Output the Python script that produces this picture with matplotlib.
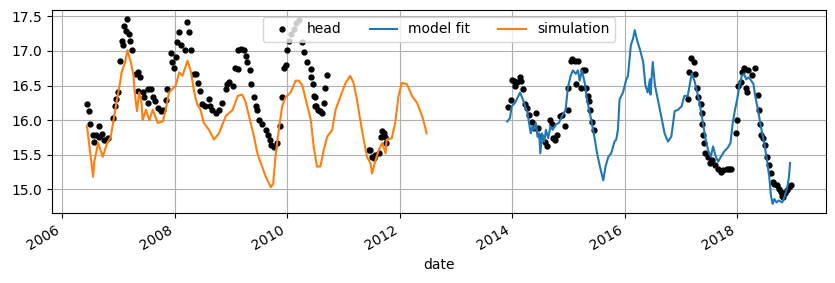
import datetime as dt
import matplotlib
matplotlib.use("Agg")
import matplotlib.pyplot as plt

# observed head (decimal year, value)
head_t = [2006.44, 2006.47, 2006.50, 2006.54, 2006.57, 2006.60, 2006.66, 2006.66, 2006.70, 2006.74,
          2006.78, 2006.82, 2006.90, 2006.93, 2006.96, 2006.99, 2007.02, 2007.06, 2007.09, 2007.10,
          2007.13, 2007.16, 2007.19, 2007.21, 2007.24, 2007.31, 2007.34, 2007.39, 2007.34, 2007.43,
          2007.46, 2007.52, 2007.58, 2007.52, 2007.61, 2007.65, 2007.70, 2007.76, 2007.79, 2007.84,
          2007.87, 2007.93, 2007.96, 2007.99, 2008.02, 2008.05, 2008.08, 2008.11, 2008.18, 2008.22,
          2008.26, 2008.29, 2008.35, 2008.38, 2008.42, 2008.45, 2008.49, 2008.54, 2008.61, 2008.62,
          2008.67, 2008.73, 2008.79, 2008.85, 2008.91, 2008.94, 2008.97, 2009.03, 2009.07, 2009.12,
          2009.13, 2009.17, 2009.23, 2009.26, 2009.29, 2009.33, 2009.35, 2009.41, 2009.44, 2009.47,
          2009.50, 2009.56, 2009.62, 2009.65, 2009.69, 2009.72, 2009.76, 2009.81, 2009.88, 2009.91,
          2009.94, 2009.97, 2010.00, 2010.04, 2010.07, 2010.12, 2010.15, 2010.21, 2010.27, 2010.30,
          2010.36, 2010.42, 2010.42, 2010.45, 2010.47, 2010.49, 2010.50, 2010.52, 2010.54, 2010.58,
          2010.61, 2010.65, 2010.68, 2010.70,
          2011.45, 2011.48, 2011.51, 2011.54, 2011.57, 2011.63, 2011.66, 2011.69, 2011.72, 2011.74,
          2011.76,
          2013.93, 2013.97, 2013.99, 2014.03, 2014.05, 2014.08, 2014.13, 2014.15, 2014.19, 2014.23,
          2014.26, 2014.30, 2014.36, 2014.39, 2014.42, 2014.46, 2014.52, 2014.58, 2014.61, 2014.67,
          2014.70, 2014.73, 2014.76, 2014.80, 2014.85, 2014.88, 2014.94, 2014.99, 2014.99, 2015.04,
          2015.07, 2015.11, 2015.17, 2015.14, 2015.23, 2015.26, 2015.29, 2015.32, 2015.35, 2015.37,
          2015.39, 2015.42, 2015.45,
          2017.12, 2017.15, 2017.18, 2017.23, 2017.25, 2017.28, 2017.30, 2017.35, 2017.37, 2017.37,
          2017.39, 2017.41, 2017.43, 2017.48, 2017.52, 2017.55, 2017.60, 2017.66, 2017.71, 2017.75,
          2017.81, 2017.86, 2017.89,
          2017.98, 2018.00, 2018.02, 2018.06, 2018.09, 2018.12, 2018.15, 2018.17, 2018.20, 2018.26,
          2018.32, 2018.37, 2018.39, 2018.41, 2018.43, 2018.46, 2018.49, 2018.53, 2018.57, 2018.60,
          2018.63, 2018.66, 2018.70, 2018.74, 2018.77, 2018.80, 2018.82, 2018.85, 2018.88, 2018.92,
          2018.95]
head_v = [16.23, 16.13, 15.95, 15.79, 15.69, 15.78, 15.92, 15.76, 15.80, 15.72,
          15.71, 15.74, 16.03, 16.20, 16.30, 16.40, 16.85, 17.14, 17.08, 17.36,
          17.29, 17.46, 17.24, 17.14, 17.01, 16.67, 16.69, 16.62, 16.42, 16.40,
          16.33, 16.45, 16.45, 16.25, 16.33, 16.28, 16.18, 16.13, 16.15, 16.29,
          16.45, 16.97, 16.84, 16.76, 16.91, 17.13, 17.28, 17.08, 17.01, 17.42,
          17.28, 17.01, 16.67, 16.67, 16.54, 16.42, 16.23, 16.20, 16.31, 16.20,
          16.15, 16.11, 16.15, 16.25, 16.45, 16.52, 16.55, 16.50, 16.76, 16.74,
          17.01, 17.03, 17.01, 16.93, 16.84, 16.72, 16.52, 16.33, 16.20, 16.15,
          16.00, 15.94, 15.86, 15.79, 15.72, 15.64, 15.61, 15.67, 15.91, 16.33,
          16.76, 16.79, 17.01, 17.15, 17.25, 17.32, 17.40, 17.45, 17.13, 16.98,
          16.84, 16.74, 16.62, 16.52, 16.35, 16.20, 16.33, 16.20, 16.15, 16.13,
          16.11, 16.25, 16.47, 16.65,
          15.57, 15.57, 15.47, 15.45, 15.50, 15.52, 15.76, 15.84, 15.81, 15.76,
          15.67,
          16.19, 16.29, 16.58, 16.57, 16.50, 16.55, 16.62, 16.57, 16.45, 16.23,
          16.18, 16.08, 15.98, 15.89, 16.10, 15.89, 15.76, 15.69, 15.62, 16.00,
          15.94, 15.74, 15.72, 15.79, 16.06, 16.07, 15.91, 16.15, 16.47, 16.86,
          16.89, 16.86, 16.86, 16.52, 16.47, 16.72, 16.72, 16.47, 16.35, 16.28,
          16.15, 15.98, 15.86,
          16.30, 16.69, 16.90, 16.84, 16.67, 16.47, 16.34, 16.23, 16.11, 15.94,
          15.79, 15.67, 15.52, 15.47, 15.38, 15.42, 15.35, 15.30, 15.25, 15.28,
          15.30, 15.30, 15.29,
          15.81, 16.00, 16.49, 16.55, 16.69, 16.76, 16.47, 16.41, 16.73, 16.65,
          16.76, 16.37, 16.15, 15.94, 15.79, 15.74, 15.64, 15.47, 15.35, 15.23,
          15.11, 15.08, 15.06, 15.01, 14.96, 14.91, 14.89, 14.94, 14.99, 15.03,
          15.06]

# model fit (calibration period)
fit_t = [2013.91, 2013.96, 2013.99, 2014.05, 2014.11, 2014.14, 2014.19, 2014.23, 2014.27, 2014.30,
         2014.33, 2014.36, 2014.39, 2014.42, 2014.45, 2014.48, 2014.50, 2014.53, 2014.57, 2014.60,
         2014.64, 2014.68, 2014.72, 2014.78, 2014.83, 2014.89, 2014.95, 2014.99, 2015.04, 2015.08,
         2015.13, 2015.17, 2015.20, 2015.24, 2015.29, 2015.33, 2015.38, 2015.42, 2015.47, 2015.51,
         2015.56, 2015.62, 2015.66, 2015.71, 2015.76, 2015.82, 2015.85, 2015.88, 2015.91, 2015.97,
         2016.03, 2016.06, 2016.11, 2016.15, 2016.18, 2016.23, 2016.27, 2016.33, 2016.37, 2016.41,
         2016.45, 2016.46, 2016.50, 2016.54, 2016.59, 2016.65, 2016.71, 2016.77, 2016.83, 2016.89,
         2016.95, 2017.01, 2017.06, 2017.12, 2017.19, 2017.24, 2017.31, 2017.35, 2017.39, 2017.43,
         2017.48, 2017.53, 2017.57, 2017.62, 2017.66, 2017.71, 2017.77, 2017.83, 2017.88, 2017.92,
         2017.96, 2018.00, 2018.04, 2018.08, 2018.12, 2018.16, 2018.20, 2018.25, 2018.29, 2018.32,
         2018.37, 2018.42, 2018.48, 2018.53, 2018.57, 2018.60, 2018.63, 2018.66, 2018.70, 2018.74,
         2018.80, 2018.84, 2018.89, 2018.92, 2018.94]
fit_v = [15.98, 16.03, 16.20, 16.25, 16.35, 16.40, 16.30, 16.20, 16.11, 15.96,
         15.81, 15.91, 15.86, 15.96, 15.76, 15.81, 15.52, 15.81, 15.69, 15.86,
         15.74, 15.91, 15.86, 15.94, 15.96, 16.06, 16.15, 16.47, 16.64, 16.72,
         16.67, 16.72, 16.57, 16.72, 16.54, 16.30, 16.11, 15.94, 15.72, 15.52,
         15.33, 15.13, 15.33, 15.47, 15.52, 15.69, 15.72, 15.86, 16.30, 16.40,
         16.59, 16.64, 17.08, 17.18, 17.30, 17.13, 17.03, 16.84, 16.50, 16.40,
         16.59, 16.37, 16.84, 16.50, 16.30, 16.06, 15.81, 15.69, 15.76, 16.13,
         16.15, 16.20, 16.35, 16.35, 16.67, 16.57, 16.33, 16.15, 15.96, 15.76,
         15.57, 15.47, 15.62, 15.47, 15.40, 15.47, 15.55, 15.60, 15.67, 15.96,
         16.15, 16.30, 16.50, 16.64, 16.67, 16.59, 16.62, 16.57, 16.52, 16.35,
         16.15, 15.91, 15.67, 15.42, 15.18, 14.91, 14.79, 14.86, 14.81, 14.84,
         14.81, 14.89, 15.03, 15.18, 15.38]

# simulation (validation period)
sim_t = [2006.44, 2006.55, 2006.57, 2006.64, 2006.72, 2006.80, 2006.86, 2006.90, 2006.96, 2007.02,
         2007.06, 2007.12, 2007.16, 2007.22, 2007.27, 2007.29, 2007.33, 2007.37, 2007.41, 2007.43,
         2007.49, 2007.55, 2007.61, 2007.70, 2007.79, 2007.84, 2007.90, 2007.96, 2008.02, 2008.08,
         2008.14, 2008.23, 2008.29, 2008.35, 2008.40, 2008.46, 2008.52, 2008.61, 2008.70, 2008.79,
         2008.91, 2009.03, 2009.12, 2009.20, 2009.26, 2009.32, 2009.41, 2009.47, 2009.53, 2009.62,
         2009.71, 2009.75, 2009.79, 2009.85, 2009.91, 2009.97, 2010.06, 2010.15, 2010.21, 2010.27,
         2010.36, 2010.42, 2010.47, 2010.53, 2010.59, 2010.65, 2010.71, 2010.80, 2010.86, 2010.95,
         2011.04, 2011.12, 2011.18, 2011.24, 2011.30, 2011.36, 2011.42, 2011.48, 2011.51, 2011.57,
         2011.63, 2011.69, 2011.75, 2011.77, 2011.86, 2011.92, 2011.98, 2012.04, 2012.13, 2012.22,
         2012.31, 2012.40, 2012.45, 2012.48]
sim_v = [15.92, 15.18, 15.40, 15.67, 15.47, 15.67, 15.75, 15.94, 16.23, 16.50,
         16.70, 16.84, 17.01, 16.84, 16.64, 16.40, 16.13, 16.40, 16.26, 16.00,
         16.15, 16.00, 16.15, 15.96, 15.98, 16.15, 16.40, 16.45, 16.50, 16.69,
         16.64, 16.86, 16.70, 16.40, 16.23, 16.15, 15.96, 15.86, 15.72, 15.81,
         16.06, 16.15, 16.35, 16.37, 16.26, 16.06, 15.76, 15.52, 15.38, 15.18,
         15.03, 15.08, 15.47, 15.86, 16.20, 16.33, 16.40, 16.57, 16.57, 16.50,
         16.20, 16.00, 15.62, 15.33, 15.33, 15.57, 15.76, 15.86, 16.15, 16.35,
         16.54, 16.64, 16.54, 16.30, 16.00, 15.72, 15.47, 15.38, 15.23, 15.42,
         15.57, 15.67, 15.52, 15.72, 15.74, 15.96, 16.35, 16.54, 16.52, 16.35,
         16.25, 16.06, 15.91, 15.81]


def to_date(year):
    y = int(year)
    return dt.datetime(y, 1, 1) + dt.timedelta(days=(year - y) * 365.25)


fig, ax = plt.subplots(figsize=(8.35, 2.83), dpi=100)
ax.plot([to_date(t) for t in head_t], head_v, "k.", markersize=7, label="head")
ax.plot([to_date(t) for t in fit_t], fit_v, label="model fit")
ax.plot([to_date(t) for t in sim_t], sim_v, label="simulation")
ax.grid(True)
ax.set_xlabel("date")
ax.legend(loc="upper center", ncol=3)
fig.autofmt_xdate()
fig.subplots_adjust(left=0.062, right=0.989, top=0.965, bottom=0.247)
fig.savefig("out.png")
